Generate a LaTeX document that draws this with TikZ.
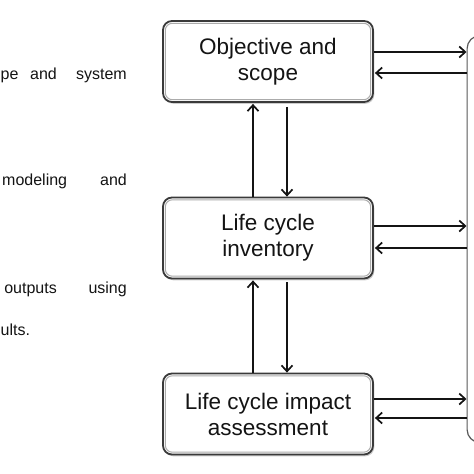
\documentclass[tikz,border=0pt]{standalone}
\usepackage{fontspec}
\setmainfont{Liberation Sans}
\usetikzlibrary{arrows.meta,shadows}
\definecolor{txt}{HTML}{141414}
\definecolor{edge}{HTML}{3A3A3A}
\definecolor{inner}{HTML}{ABABAB}
\tikzset{
  stagebox/.style={draw=edge, line width=1.8pt, rounded corners=9pt, fill=white,
    minimum width=210pt, minimum height=81pt, align=center, text=txt,
    font=\fontsize{22.5}{26}\selectfont,
    drop shadow={opacity=0.4, shadow xshift=1.3pt, shadow yshift=-1.8pt}},
  innerline/.style={draw=inner, line width=1pt, rounded corners=7pt},
  arr/.style={line width=1.9pt, draw=black!92, -{Straight Barb[length=6pt,width=11pt,line width=1.7pt]}},
  sidetext/.style={font=\fontsize{16}{19}\selectfont, text=txt, inner sep=0pt},
}
\begin{document}
\begin{tikzpicture}[x=1pt,y=-1pt]
\useasboundingbox (0,0) rectangle (474,474);
\clip (0,0) rectangle (474,474);
\fill[white] (0,0) rectangle (474,474);

% left partial text
\node[sidetext, anchor=base west] (t1a) at (0.5,79) {pe};
\node[sidetext, anchor=base west] (t1b) at (30,79) {and};
\node[sidetext, anchor=base east] (t1c) at (127,79) {system};
\node[sidetext, anchor=base west] (t2a) at (2,185) {modeling};
\node[sidetext, anchor=base east] (t2b) at (127,185) {and};
\node[sidetext, anchor=base east] (t3a) at (57,293) {outputs};
\node[sidetext, anchor=base east] (t3b) at (127,293) {using};
\node[sidetext, anchor=base west] (t4a) at (0.5,335) {ults.};

% boxes
\node[stagebox] (b1) at (268,61.5) {Objective and\\scope};
\node[stagebox] (b2) at (268,238) {Life cycle\\inventory};
\node[stagebox] (b3) at (268,414) {Life cycle impact\\assessment};
\foreach \b in {b1,b2,b3}{
  \draw[innerline] ([shift={(3.2pt,-3.2pt)}]\b.north west) rectangle ([shift={(-3.2pt,3.2pt)}]\b.south east);
}

% right big box
\node[draw=edge!85, line width=1.2pt, rounded corners=13pt, minimum width=80pt, minimum height=407pt,
  anchor=north west, inner sep=0pt] (r) at (466.5,35) {};

% horizontal arrows
\draw[arr] (b1.east |- 0,52) -- (r.west |- 0,52);
\draw[arr] (r.west |- 0,73) -- ([xshift=1pt]b1.east |- 0,73);
\draw[arr] (b2.east |- 0,226) -- (r.west |- 0,226);
\draw[arr] (r.west |- 0,248) -- ([xshift=1pt]b2.east |- 0,248);
\draw[arr] (b3.east |- 0,399) -- (r.west |- 0,399);
\draw[arr] (r.west |- 0,418) -- ([xshift=1pt]b3.east |- 0,418);

% vertical arrows
\draw[arr] (b2.north -| 253,0) -- ([yshift=-1pt]b1.south -| 253,0);
\draw[arr] ([yshift=-4pt]b1.south -| 287,0) -- (b2.north -| 287,0);
\draw[arr] (b3.north -| 253,0) -- ([yshift=-1pt]b2.south -| 253,0);
\draw[arr] ([yshift=-3pt]b2.south -| 287,0) -- (b3.north -| 287,0);
\end{tikzpicture}
\end{document}
